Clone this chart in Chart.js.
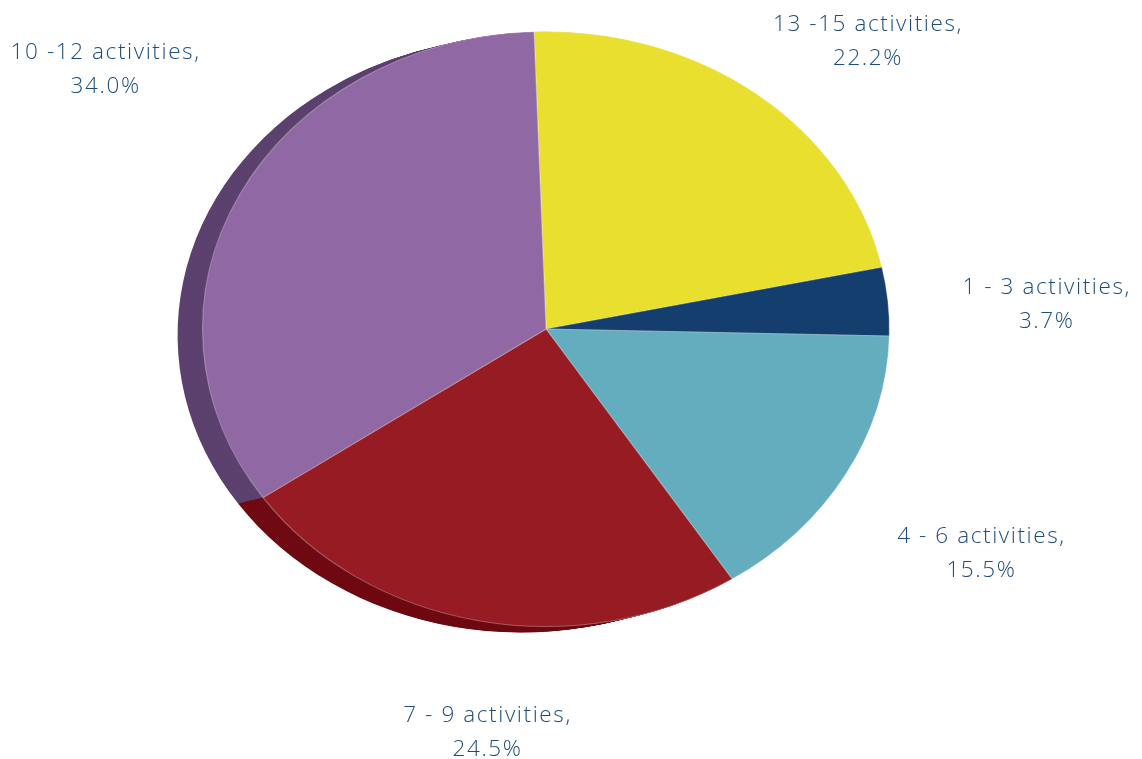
<!DOCTYPE html>
<html>
<head>
<meta charset="utf-8">
<title>Activities</title>
<script src="https://cdn.jsdelivr.net/npm/chart.js@4"></script>
<style>
  html, body { margin: 0; padding: 0; background: #fff; }
  #activities-pie { display: block; }
</style>
</head>
<body>
<canvas id="activities-pie" width="1142" height="759"></canvas>
<script>
// pie data
const categories = ['13 -15 activities', '1 - 3 activities', '4 - 6 activities', '7 - 9 activities', '10 -12 activities'];
const shares = [22.2, 3.7, 15.5, 24.5, 34.0];

// colours for the top face and the darker side wall
const faceColors = ['#e8df2e', '#143e6e', '#63adbf', '#961b23', '#8f68a4'];
const sideColors = ['#8f8a1c', '#0c2746', '#3d6f7b', '#6f0a12', '#5c416f'];

// label placement: distance along the slice middle, then a small nudge
const labelDistance = 1.4;
const labelNudge = [[26, 41], [22, 14], [16, 21], [36, -5], [-11, -72]];

const stretchX = 344 / 298;        // pie is drawn wider than tall
const depth = { x: -25, y: 6 };     // side wall offset

function squash(ctx, cx, cy) {
  ctx.translate(cx, cy);
  ctx.scale(stretchX, 1);
  ctx.translate(-cx, -cy);
}

function arcPath(ctx, el, dx, dy) {
  ctx.beginPath();
  ctx.moveTo(el.x + dx, el.y + dy);
  ctx.arc(el.x + dx, el.y + dy, el.outerRadius, el.startAngle, el.endAngle);
  ctx.closePath();
}

const tiltPlugin = {
  id: 'tilt',
  beforeDatasetsDraw(chart) {
    const ctx = chart.ctx;
    const arcs = chart.getDatasetMeta(0).data;
    const cx = arcs[0].x, cy = arcs[0].y;
    ctx.save();
    squash(ctx, cx, cy);
    // side wall: stack offset copies from the back to the face
    const steps = 26;
    for (let s = steps; s >= 1; s--) {
      const t = s / steps;
      arcs.forEach((el, i) => {
        arcPath(ctx, el, depth.x * t / stretchX, depth.y * t);
        ctx.fillStyle = sideColors[i];
        ctx.fill();
      });
    }
    // keep the squash on for the face itself
  },
  afterDatasetsDraw(chart) {
    chart.ctx.restore();
  },
  afterDraw(chart) {
    const ctx = chart.ctx;
    const arcs = chart.getDatasetMeta(0).data;
    ctx.save();
    ctx.font = '300 22.5px "Open Sans", "Liberation Sans", sans-serif';
    ctx.letterSpacing = '1.6px';
    ctx.fillStyle = '#1d4d7a';
    ctx.textAlign = 'center';
    ctx.textBaseline = 'middle';
    arcs.forEach((el, i) => {
      const mid = (el.startAngle + el.endAngle) / 2;
      const r = el.outerRadius * labelDistance;
      const x = el.x + Math.cos(mid) * r * stretchX + labelNudge[i][0];
      const y = el.y + Math.sin(mid) * r + labelNudge[i][1];
      ctx.fillText(categories[i] + ',', x, y - 17);
      ctx.fillText(shares[i].toFixed(1) + '%', x, y + 17);
    });
    ctx.restore();
  }
};

new Chart(document.getElementById('activities-pie'), {
  type: 'pie',
  data: {
    labels: categories,
    datasets: [{
      data: shares,
      backgroundColor: faceColors,
      borderColor: 'rgba(255,255,255,0.3)',
      borderWidth: 1,
      clip: false
    }]
  },
  options: {
    responsive: false,
    animation: false,
    events: [],
    rotation: -2,
    layout: { padding: { top: 31, bottom: 132, left: 0, right: 50 } },
    plugins: {
      legend: { display: false },
      tooltip: { enabled: false }
    }
  },
  plugins: [tiltPlugin]
});
</script>
</body>
</html>
